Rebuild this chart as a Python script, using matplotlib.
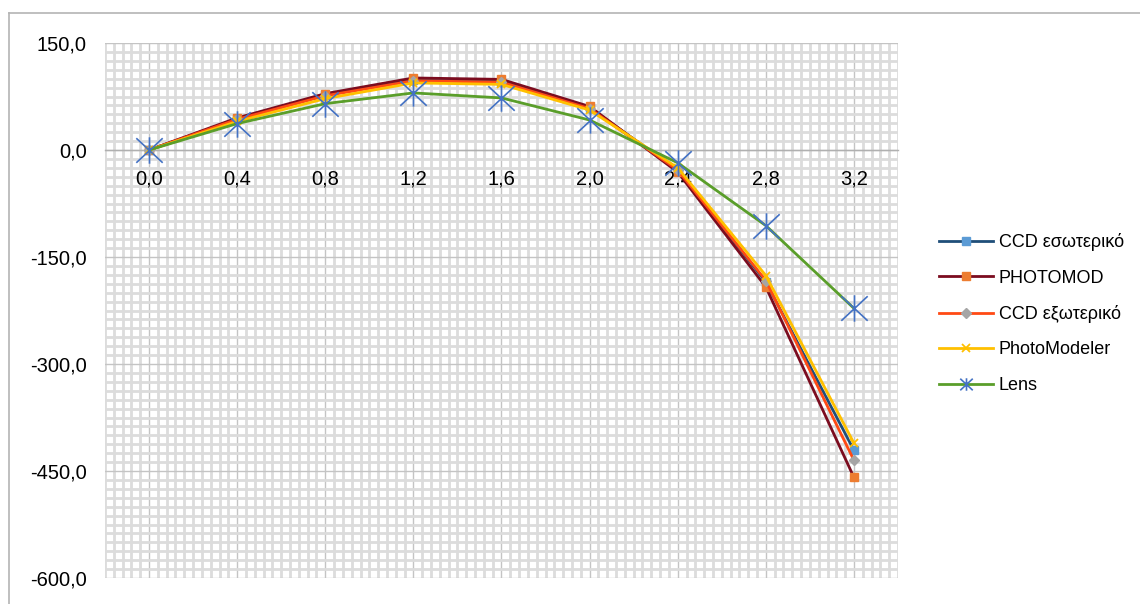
import matplotlib
matplotlib.use('Agg')
import matplotlib.pyplot as plt
import numpy as np
from matplotlib.lines import Line2D
from matplotlib.path import Path

plt.rcParams['font.family'] = ['Liberation Sans', 'DejaVu Sans']

# Δεδομένα
categories = ['0,0', '0,4', '0,8', '1,2', '1,6', '2,0', '2,4', '2,8', '3,2']
ccd_eso = [0, 43, 77, 98, 96, 59, -28, -185, -421]
photomod = [0, 45, 79, 101, 99, 61, -31, -192, -459]
ccd_exo = [0, 43, 76, 97, 95, 58, -28, -183, -435]
photomodeler = [0, 40, 72, 94, 92, 56, -25, -176, -411]
lens = [0, 37, 65, 80, 73, 42, -18, -106, -222]
y_ticks = [150, 0, -150, -300, -450, -600]

fig = plt.figure(figsize=(11.4, 6.04), dpi=100)
pos = [105 / 1140, 26 / 604, 793 / 1140, 535 / 604]
ax = fig.add_axes(pos)

x = np.arange(len(categories))

# Πυκνό πλέγμα (minor) και κύριες γραμμές, χωρίς ετικέτες
ax.set_xlim(-0.5, len(categories) - 0.5)
ax.set_ylim(-600, 150)
ax.set_xticks(np.arange(-0.5, len(categories) - 0.5 + 0.01, 0.1), minor=True)
ax.set_yticks(np.arange(-600, 150.1, 12.5), minor=True)
ax.grid(which='minor', color='#dcdcdc', linewidth=2.0, zorder=0)
ax.set_xticks(x)
ax.set_yticks(y_ticks)
ax.grid(which='major', color='#c4c4c4', linewidth=1.0, zorder=0.5)
ax.set_axisbelow(True)
ax.tick_params(which='both', length=0, labelbottom=False, labelleft=False)
for s in ax.spines.values():
    s.set_visible(False)

# Δεύτερος άξονας μόνο για τις ετικέτες (πάνω από το πλέγμα)
ax2 = fig.add_axes(pos, sharex=ax, sharey=ax)
ax2.patch.set_visible(False)
ax2.set_xticks(x)
ax2.set_xticklabels(categories)
ax2.set_yticks(y_ticks)
ax2.set_yticklabels([f'{v:.1f}'.replace('.', ',') for v in y_ticks])
ax2.tick_params(which='both', length=0, labelsize=14.5, colors='black')
ax2.tick_params(axis='y', pad=13)
ax2.tick_params(axis='x', pad=14)
for s in ['top', 'right', 'left']:
    ax2.spines[s].set_visible(False)
ax2.spines['bottom'].set_position(('data', 0))
ax2.spines['bottom'].set_color('#b0b0b0')
ax2.spines['bottom'].set_linewidth(1.0)

# Αστερίσκος όπως στο Excel
star = Path([(0, -1), (0, 1), (-1, -0.93), (1, 0.93), (-1, 0.93), (1, -0.93)],
            [Path.MOVETO, Path.LINETO, Path.MOVETO, Path.LINETO,
             Path.MOVETO, Path.LINETO])

# Σειρές
ax2.plot(x, ccd_eso, color='#1f4e79', lw=2.0, marker='s', ms=6,
         mfc='#5b9bd5', mec='#5b9bd5', label='CCD εσωτερικό', zorder=3)
ax2.plot(x, photomod, color='#7b0c1f', lw=2.0, marker='s', ms=6,
         mfc='#ed7d31', mec='#ed7d31', label='PHOTOMOD', zorder=4)
ax2.plot(x, ccd_exo, color='#ff4a14', lw=2.0, marker='D', ms=5,
         mfc='#a5a5a5', mec='#a5a5a5', label='CCD εξωτερικό', zorder=5)
ax2.plot(x, photomodeler, color='#ffc000', lw=2.0, marker='x', ms=6,
         mec='#ffc000', mew=1.3, label='PhotoModeler', zorder=6)
ax2.plot(x, lens, color='#5a9e2a', lw=2.0, marker=star, ms=19,
         mec='#4472c4', mew=1.2, label='Lens', zorder=7)

handles, labels = ax2.get_legend_handles_labels()
leg = fig.legend(handles, labels, loc='upper left',
                 bbox_to_anchor=(923 / 1140, 1 - 217 / 604),
                 frameon=False, fontsize=13, handlelength=3.0,
                 labelspacing=1.02, handletextpad=0.3)
for h in leg.legend_handles:
    if h.get_label() == 'Lens':
        h.set_markersize(9)

# Περίγραμμα γραφήματος
fig.add_artist(Line2D([9 / 1140, 1], [1 - 13 / 604, 1 - 13 / 604],
                      transform=fig.transFigure, color='#b4b4b4', lw=1.2))
fig.add_artist(Line2D([9 / 1140, 9 / 1140], [0, 1 - 13 / 604],
                      transform=fig.transFigure, color='#b4b4b4', lw=1.2))

fig.savefig('out.png', dpi=100)
